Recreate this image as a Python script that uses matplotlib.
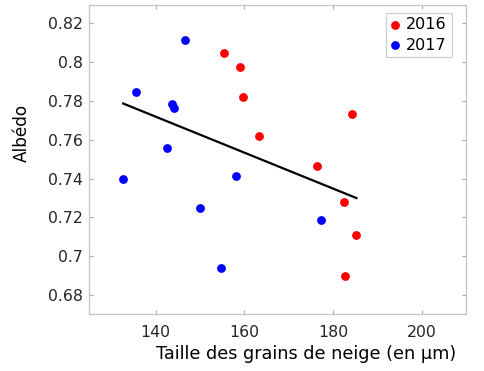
import numpy as np
import matplotlib
matplotlib.use("Agg")
import matplotlib.pyplot as plt

plt.rcParams['font.family'] = ['DejaVu Sans']

# Data
x_2016 = [155.5, 159.0, 159.8, 163.3, 184.4, 176.3, 182.6, 185.3, 182.7]
y_2016 = [0.8046, 0.7977, 0.7818, 0.7622, 0.7732, 0.7466, 0.7280, 0.7108, 0.6896]
x_2017 = [146.6, 135.7, 143.8, 144.2, 142.6, 132.7, 158.1, 150.0, 154.8, 177.2]
y_2017 = [0.8114, 0.7847, 0.7783, 0.7763, 0.7559, 0.7396, 0.7413, 0.7250, 0.6938, 0.7187]
labels = ["2016", "2017"]
x_ticks = [140, 160, 180, 200]
y_ticks = [0.68, 0.70, 0.72, 0.74, 0.76, 0.78, 0.80, 0.82]
y_ticklabels = ["0.68", "0.7", "0.72", "0.74", "0.76", "0.78", "0.8", "0.82"]

fig = plt.figure(figsize=(4.85, 3.71), dpi=100)
ax = fig.add_axes([89/485, 1-314.3/371, 377/485, 309.3/371])

ax.scatter(x_2016, y_2016, s=40, color='#ff0000', label=labels[0], zorder=3, linewidths=0)
ax.scatter(x_2017, y_2017, s=40, color='#0000ff', label=labels[1], zorder=3, linewidths=0)

# Linear regression over all points
xa = np.array(x_2016 + x_2017)
ya = np.array(y_2016 + y_2017)
m, b = np.polyfit(xa, ya, 1)
xl = np.array([xa.min(), xa.max()])
ax.plot(xl, m*xl + b, color='black', lw=1.6, zorder=2)

ax.set_xlim(125, 210)
ax.set_ylim(0.67, 0.8295)
ax.set_xticks(x_ticks)
ax.set_yticks(y_ticks)
ax.set_yticklabels(y_ticklabels)

for s in ax.spines.values():
    s.set_color('#c4c4c4')
    s.set_linewidth(0.9)
ax.tick_params(direction='in', length=3, width=0.8, color='#a8a8a8',
               top=True, right=True, labelsize=11.3, labelcolor='#262626')
ax.tick_params(axis='x', pad=7.5)
ax.tick_params(axis='y', pad=4.5)

ax.set_xlabel("Taille des grains de neige (en µm)", fontsize=12.7, color='black')
ax.xaxis.set_label_coords((306.3-89)/377, (314.3-359.3)/309.3)
ax.xaxis.label.set_va('baseline')

ax.set_ylabel("Albédo", fontsize=12.2, color='black')
ax.yaxis.set_label_coords((26.7-89)/377, (314.3-133)/309.3)
ax.yaxis.label.set_va('baseline')

leg = ax.legend(loc='upper right', bbox_to_anchor=((451.7-89)/377, (314.3-12.7)/309.3),
                borderaxespad=0, fontsize=11.5, handlelength=0.6, handletextpad=0.4,
                borderpad=0.3, labelspacing=0.32, fancybox=False, markerscale=1.0)
leg.get_frame().set_edgecolor('#c4c4c4')
leg.get_frame().set_linewidth(0.9)

fig.savefig("out.png", dpi=100)
